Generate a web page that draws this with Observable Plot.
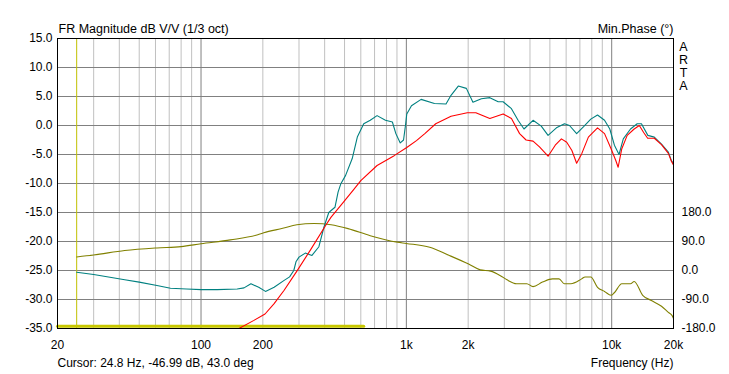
<!DOCTYPE html>
<html><head><meta charset="utf-8">
<script src="https://cdn.jsdelivr.net/npm/d3@7"></script>
<script src="https://cdn.jsdelivr.net/npm/@observablehq/plot@0.6"></script>
<style>
body{margin:0;background:#fff;}
#chart svg{display:block}
</style></head><body><div id="chart"></div>
<script>
// ---- data ----
const tealFreq = [24.8,30,42.5,50,61,71,85,100,120,150,162,175,191,206,227,254,270,283,290,300,322,347,375,397,419,449,465,479,506,545,577,620,667,720,791,855,889,934,969,990,1005,1059,1180,1370,1560,1650,1790,1960,2110,2320,2550,2800,2960,3250,3500,3740,4140,4540,4900,5380,5890,6230,6750,7300,7910,8530,9230,9790,10310,10860,11390,12350,13310,13960,15000,16130,17480,18880,19500,20000];
const tealDb   = [-25.3,-25.7,-26.6,-27.0,-27.6,-28.05,-28.2,-28.3,-28.3,-28.2,-28.0,-27.3,-27.9,-28.6,-27.9,-26.7,-26.1,-25.0,-23.5,-22.7,-22.0,-22.4,-20.9,-17.5,-15.0,-14.1,-11.5,-10.1,-8.6,-5.7,-2.0,0.3,0.9,1.7,0.9,0.6,-1.4,-3.0,-2.5,0.0,2.0,3.4,4.5,3.8,3.7,5.2,6.8,6.4,4.0,4.6,4.8,4.1,4.1,2.9,0.9,-0.6,0.9,-0.1,-1.7,-0.4,0.3,0.0,-1.4,-0.2,1.1,1.8,0.9,-0.6,-3.4,-5.0,-2.3,-0.6,0.3,0.3,-1.7,-2.0,-3.2,-4.6,-6.0,-6.6];

const redFreq = [153,181,205,227,254,293,342,405,430,494,555,600,720,872,1005,1120,1230,1390,1650,1980,2180,2550,2960,3250,3560,3830,4140,4450,4900,5310,5690,6040,6400,6750,7140,7700,8530,9230,9930,10460,10750,11200,11900,12870,13630,14310,14970,16130,17480,18880,19500,20000];
const redDb   = [-35,-33.6,-32.5,-30.7,-28.4,-25.1,-21.4,-17.2,-15.8,-13.2,-11.0,-9.5,-6.9,-5.2,-3.8,-2.6,-1.4,0.3,1.6,2.2,2.2,1.2,2.0,1.2,-1.4,-2.5,-2.7,-3.7,-5.3,-3.4,-2.3,-2.9,-4.3,-6.5,-4.9,-2.0,-0.4,-1.4,-4.0,-6.0,-7.2,-4.0,-1.7,-0.6,0.0,-1.2,-2.2,-2.2,-3.3,-4.8,-6.1,-6.8];

const phaseFreq = [24.8,30,42.5,61,80,100,139,189,202,250,293,355,430,520,667,903,1000,1300,1600,2010,2290,2570,2870,3090,3440,3860,4140,4600,5150,5540,5880,6330,7140,7420,7910,8530,9230,9930,10300,11200,12350,12870,14160,15600,17480,18880,19700,20000];
const phaseDeg  = [42,48,62,70,74,83,95,111,117,131,142,146,142,130,108,88,84,72,48,20,2,-2,-16,-29,-41,-41,-50,-36,-26,-26,-41,-41,-26,-20,-20,-52,-65,-77,-69,-41,-41,-34,-77,-93,-111,-130,-140,-149];

const refFreq = [20,620];
const refDb = [-34.6,-34.6];
const cursorFreq = [24.8];

const dbTicks = [15,10,5,0,-5,-10,-15,-20,-25,-30,-35];
const phaseTicks = [180,90,0,-90,-180];
const freqTicks = [20,50,100,200,500,1000,2000,5000,10000,20000];
const minorGrid = [30,40,50,60,70,80,90,200,300,400,500,600,700,800,900,2000,3000,4000,5000,6000,7000,8000,9000];
const majorGrid = [100,1000,10000];

const titleLeft = "FR Magnitude dB V/V (1/3 oct)";
const titleRight = "Min.Phase (°)";
const brandLetters = ["A","R","T","A"];
const cursorText = "Cursor: 24.8 Hz, -46.99 dB, 43.0 deg";
const xLabel = "Frequency (Hz)";

// phase is drawn on the dB axis: -180..180 deg -> -35..-15 dB
const phaseToDb = p => -25 + p * 20 / 360;
const dbToPhase = d => (d + 25) * 360 / 20;

const teal = tealFreq.map((f,i)=>({f, v:tealDb[i]}));
const red = redFreq.map((f,i)=>({f, v:redDb[i]}));
const phase = phaseFreq.map((f,i)=>({f, v:phaseToDb(phaseDeg[i])}));
const ref = refFreq.map((f,i)=>({f, v:refDb[i]}));

const fmtF = d => d >= 1000 ? (d/1000) + "k" : String(d);
const font = "'Liberation Sans', Arial, sans-serif";

const plot = Plot.plot({
  width: 729, height: 374,
  marginLeft: 57, marginRight: 56, marginTop: 38, marginBottom: 46,
  style: {fontFamily: font, fontSize: "12px", color: "#000", background: "#fff", overflow: "visible"},
  x: {type: "log", domain: [20, 20000]},
  y: {domain: [-35, 15]},
  marks: [
    Plot.ruleX(minorGrid, {stroke: "#c0c0c0", strokeWidth: 1}),
    Plot.ruleX(majorGrid, {stroke: "#808080", strokeWidth: 1}),
    Plot.ruleY(dbTicks, {stroke: "#808080", strokeWidth: 1}),
    Plot.ruleX(cursorFreq, {stroke: "#c0c000", strokeWidth: 1}),
    Plot.line(ref, {x: "f", y: "v", stroke: "#c8c800", strokeWidth: 3}),
    Plot.line(phase, {x: "f", y: "v", stroke: "#808000", strokeWidth: 1.1, curve: "monotone-x"}),
    Plot.line(teal, {x: "f", y: "v", stroke: "#008080", strokeWidth: 1.1, clip: true}),
    Plot.line(red, {x: "f", y: "v", stroke: "#ff0000", strokeWidth: 1.1, clip: true}),
    Plot.frame({stroke: "#000"}),
    Plot.axisY(dbTicks, {anchor: "left", tickSize: 0, tickPadding: 5, tickFormat: d => d.toFixed(1), label: null, fontSize: 12}),
    Plot.axisY(phaseTicks.map(phaseToDb), {anchor: "right", tickSize: 0, tickPadding: 8, tickFormat: d => dbToPhase(d).toFixed(1), label: null, fontSize: 12}),
    Plot.axisX(freqTicks, {anchor: "bottom", tickSize: 0, tickPadding: 12, tickFormat: fmtF, label: null, fontSize: 12}),
    Plot.text([titleLeft], {text: d => d, frameAnchor: "top-left", textAnchor: "start", lineAnchor: "bottom", dx: 1, dy: -6, fontSize: 12.5}),
    Plot.text([titleRight], {text: d => d, frameAnchor: "top-right", textAnchor: "end", lineAnchor: "bottom", dx: 0, dy: -6, fontSize: 12.5}),
    ...brandLetters.map((c, i) => Plot.text([c], {text: d => d, frameAnchor: "top-right", textAnchor: "middle", lineAnchor: "middle", dx: 10, dy: 8 + i * 13, fontSize: 12.5})),
    Plot.text([cursorText], {text: d => d, frameAnchor: "bottom-left", textAnchor: "start", lineAnchor: "middle", dx: 0, dy: 35, fontSize: 12}),
    Plot.text([xLabel], {text: d => d, frameAnchor: "bottom-right", textAnchor: "end", lineAnchor: "middle", dx: 0, dy: 35, fontSize: 12})
  ]
});
document.getElementById("chart").appendChild(plot);
</script></body></html>
